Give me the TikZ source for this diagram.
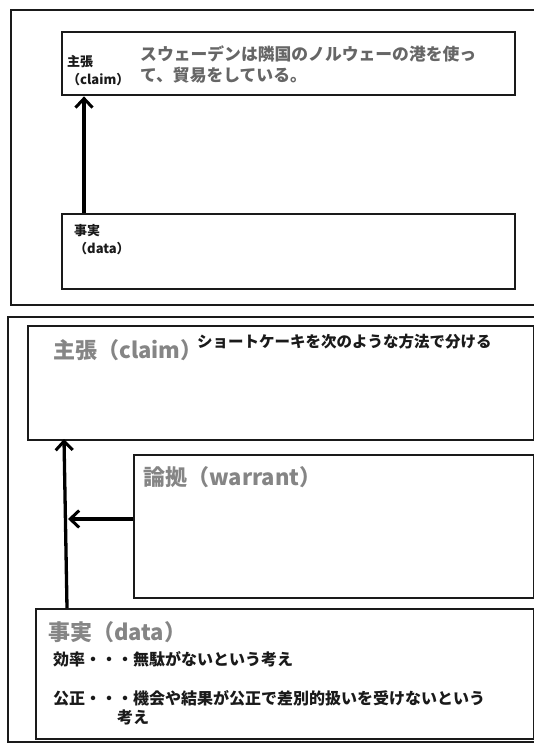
\documentclass[tikz,border=0pt]{standalone}
\usepackage{fontspec}
\setmainfont{Noto Sans CJK JP}
\usetikzlibrary{arrows.meta}
\definecolor{txtgray}{HTML}{666666}
\definecolor{lblgray}{HTML}{858585}
\definecolor{ink}{HTML}{1A1A1A}
\tikzset{
  frame/.style={draw=ink, line width=1.5pt},
  box/.style={draw=ink, line width=2.4pt, fill=white, inner sep=0pt, anchor=north west},
  arr/.style={draw=black, line width=3.3pt, -{Straight Barb[length=9pt,width=17pt,line width=3pt]}},
  lbl/.style={inner sep=0pt, anchor=base west, align=left, font=\bfseries\fontsize{13}{18}\selectfont, text=ink},
  maintxt/.style={inner sep=0pt, anchor=base west, align=left, font=\bfseries\fontsize{16.8}{21}\selectfont, text=txtgray},
  biglbl/.style={inner sep=0pt, anchor=base west, font=\bfseries\fontsize{22}{26}\selectfont, text=lblgray},
  smalltxt/.style={inner sep=0pt, anchor=base west, align=left, font=\bfseries\fontsize{16}{19}\selectfont, text=ink},
}
\begin{document}
\begin{tikzpicture}[x=1pt,y=-1pt]
\useasboundingbox (0,0) rectangle (534,743);
\clip (0,0) rectangle (534,743);
\fill[white] (0,0) rectangle (534,743);
% outer frames
\draw[frame] (11,10) rectangle (560,305);
\draw[frame] (8,317) rectangle (560,742);
% top panel
\node[box, minimum width=453pt, minimum height=63pt] (claimA) at (61,31) {};
\node[box, minimum width=453pt, minimum height=75pt] (dataA) at (61,213) {};
\node[lbl] (claimAlbl) at (67,85) {主張\\（claim）};
\node[maintxt] (claimAtxt) at (140,82) {スウェーデンは隣国のノルウェーの港を使っ\\て、貿易をしている。};
\node[lbl] (dataAlbl) at (74,253) {事実\\（data）};
\coordinate (aA) at (84,213);
\draw[arr] (aA) -- (aA |- claimA.south);
% bottom panel
\node[box, minimum width=506pt, minimum height=114pt] (claimB) at (27,325) {};
\node[box, minimum width=400pt, minimum height=143pt] (warrB) at (133,454) {};
\node[box, minimum width=498pt, minimum height=130pt] (dataB) at (35,608) {};
\node[biglbl] (claimBlbl) at (53,358) {主張（claim）};
\node[inner sep=0pt, anchor=base west, font=\bfseries\fontsize{15.5}{18}\selectfont, text=ink] (claimBtxt) at (197,347.5) {ショートケーキを次のような方法で分ける};
\node[biglbl] (warrBlbl) at (143,485) {論拠（warrant）};
\node[biglbl] (dataBlbl) at (48,640) {事実（data）};
\node[smalltxt] (eff) at (53,665) {効率・・・無駄がないという考え};
\node[smalltxt] (fair) at (53,723) {公正・・・機会や結果が公正で差別的扱いを受けないという\\\hspace*{4em}考え};
\coordinate (bS) at (67,608);
\coordinate (bE) at (64,439);
\draw[arr] (bS) -- (bE);
\coordinate (wS) at (133,519);
\coordinate (wE) at (68,519);
\draw[arr] (wS) -- (wE);
\end{tikzpicture}
\end{document}
